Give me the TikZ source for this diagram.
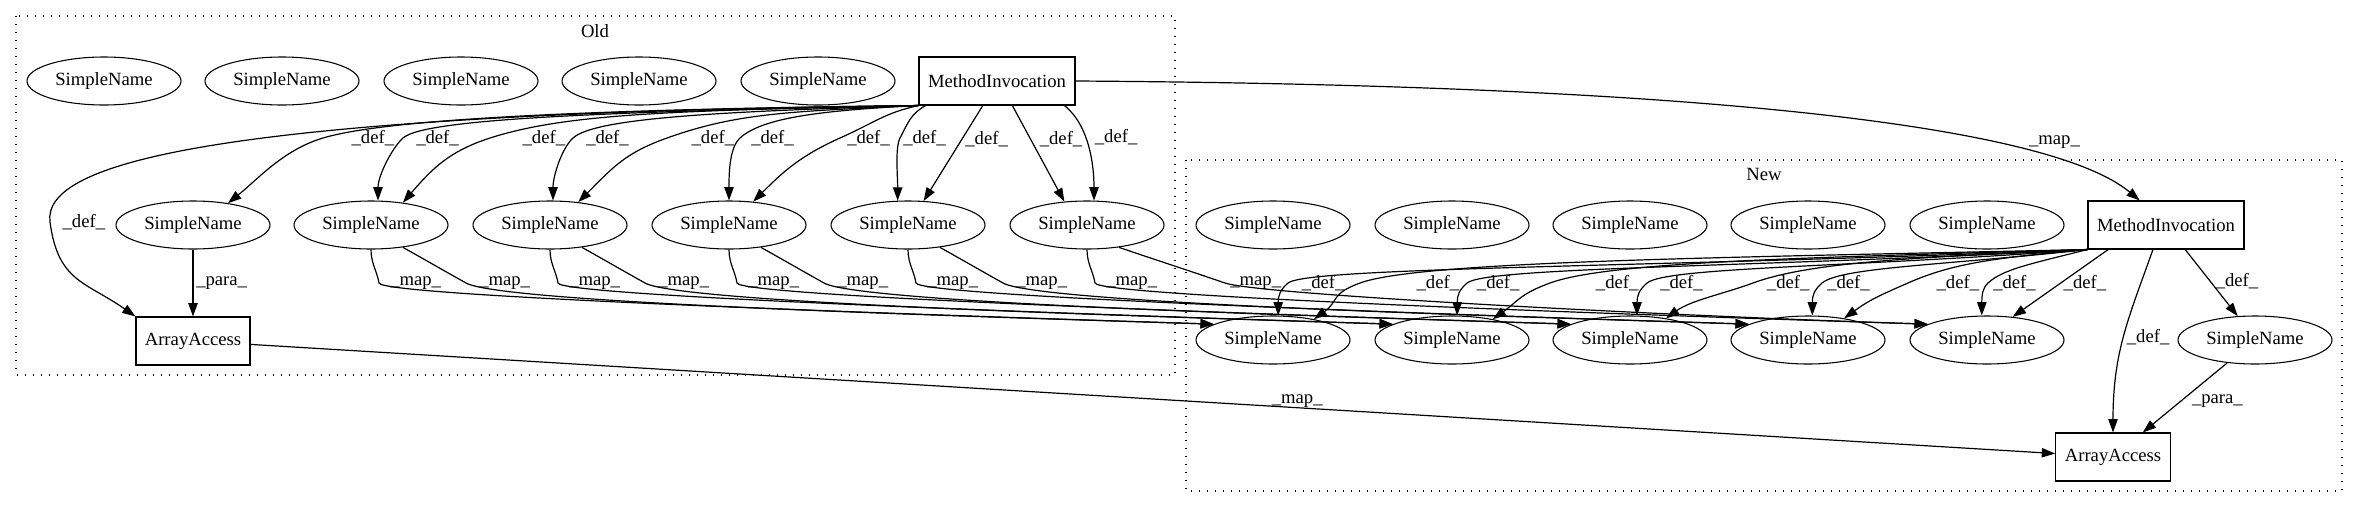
\documentclass[tikz,border=0pt]{standalone}
\usepackage{fontspec}
\setmainfont{Liberation Serif}
\usetikzlibrary{arrows.meta, shapes.geometric}

\begin{document}
\begin{tikzpicture}[x=0.75pt, y=-0.75pt,
  every node/.style={font=\fontsize{14pt}{16.8pt}\selectfont},
  sn/.style={draw, ellipse, line width=0.8pt, minimum width=115.5pt, minimum height=36pt, inner sep=0pt},
  bx/.style={draw, rectangle, line width=0.8pt, minimum height=36pt, inner sep=0pt},
  arr/.style={line width=0.9pt, -{Triangle[length=10pt, width=7pt]}},
  lbl/.style={anchor=west, inner sep=2pt},
  grp/.style={line width=1pt, dash pattern=on 1pt off 5pt}]
\useasboundingbox (0,0) rectangle (2360,508);

\draw[grp] (16,16) rectangle (1175,375);
\draw[grp] (1186,160) rectangle (2342,491);
\node (old) at (595,31) {Old};
\node (new) at (1764,174) {New};

\node[sn] (ot1) at (104,81) {SimpleName};
\node[sn] (ot2) at (282,81) {SimpleName};
\node[sn] (ot3) at (461,81) {SimpleName};
\node[sn] (ot4) at (639,81) {SimpleName};
\node[sn] (ot5) at (818,81) {SimpleName};
\node[bx, minimum width=117pt] (omi) at (997,81) {MethodInvocation};
\node[sn] (om1) at (193,225) {SimpleName};
\node[sn] (om2) at (371,225) {SimpleName};
\node[sn] (om3) at (550,225) {SimpleName};
\node[sn] (om4) at (729,225) {SimpleName};
\node[sn] (om5) at (908,225) {SimpleName};
\node[sn] (om6) at (1087,225) {SimpleName};
\node[bx, minimum width=85.5pt] (oaa) at (193,341) {ArrayAccess};

\node[sn] (nt1) at (1273,225) {SimpleName};
\node[sn] (nt2) at (1452,225) {SimpleName};
\node[sn] (nt3) at (1630,225) {SimpleName};
\node[sn] (nt4) at (1808,225) {SimpleName};
\node[sn] (nt5) at (1987,225) {SimpleName};
\node[bx, minimum width=117pt] (nmi) at (2166,225) {MethodInvocation};
\node[sn] (nb1) at (1273,340) {SimpleName};
\node[sn] (nb2) at (1452,340) {SimpleName};
\node[sn] (nb3) at (1630,340) {SimpleName};
\node[sn] (nb4) at (1808,340) {SimpleName};
\node[sn] (nb5) at (1987,340) {SimpleName};
\node[sn] (nsn) at (2255,340) {SimpleName};
\node[bx, minimum width=86pt] (naa) at (2113,457) {ArrayAccess};

\draw[arr] (omi.south west) .. controls +(-350,4) and +(60,-18) .. (323,138) node[lbl, xshift=19pt] {\_def\_} .. controls +(-40,12) and +(30,-24) .. (om1.32);
\draw[arr] (omi.south west) .. controls +(-300,6) and +(22,-20) .. (403,138) node[lbl, xshift=7.5pt] {\_def\_} .. controls +(-11,10) and +(0,-25) .. (om2.74);
\draw[arr] (omi.south west) .. controls +(-250,5) and +(75,-24) .. (490,138) node[lbl, xshift=22pt] {\_def\_} .. controls +(-40,13) and +(30,-35) .. (om2.35);
\draw[arr] (omi.south west) .. controls +(-200,6) and +(22,-20) .. (573,138) node[lbl, xshift=7.5pt] {\_def\_} .. controls +(-11,10) and +(0,-25) .. (om3.83);
\draw[arr] (omi.south west) .. controls +(-130,6) and +(70,-25) .. (667,138) node[lbl, xshift=16pt] {\_def\_} .. controls +(-42,15) and +(35,-35) .. (om3.39);
\draw[arr] (omi.south west) .. controls +(-100,5) and +(22,-20) .. (740,138) node[lbl, xshift=6pt] {\_def\_} .. controls +(-11,10) and +(0,-25) .. (om4.north);
\draw[arr] (omi.south west) .. controls +(-35,8) and +(40,-18) .. (840,138) node[lbl, xshift=3pt] {\_def\_} .. controls +(-40,18) and +(30,-30) .. (om4.44);
\draw[arr] (omi.199) .. controls +(-15,8) and +(8,-15) .. (900,138) node[lbl] {\_def\_} .. controls +(-5,10) and +(0,-25) .. (om5.113);
\draw[arr] (omi.-120) -- (om5.57) node[lbl, pos=0.35] {\_def\_};
\draw[arr] (omi.-58) -- (om6.134) node[lbl, pos=0.35, xshift=4.5pt] {\_def\_};
\draw[arr] (omi.-20) .. controls +(25,20) and +(0,-35) .. (om6.74) node[lbl, pos=0.4, xshift=4.5pt] {\_def\_};
\draw[arr] (omi.south west) .. controls +(-700,8) and +(-8,-60) .. (50,222) node[lbl, xshift=7pt] {\_def\_} .. controls +(8,60) and +(-50,-35) .. (oaa.north west);
\draw[arr] (om1) -- (oaa) node[lbl, pos=0.5] {\_para\_};

\draw[arr] (omi.east) .. controls +(625,4) and +(-90,-75) .. (nmi.137) node[pos=0.8, anchor=south, yshift=8pt, inner sep=0pt] {\_map\_};
\draw[arr] (oaa) -- (naa) node[pos=0.58, anchor=south, inner sep=0pt] {\_map\_};

\draw[arr] (om2.south) .. controls +(0,14) and +(-2,-12) .. (379,283) node[lbl, xshift=6pt] {\_map\_} .. controls +(3,14) and +(-250,-8) .. (nb1.165);
\draw[arr] (om2.-35) .. controls +(25,14) and +(-25,-14) .. (466,283) node[lbl, xshift=7.5pt] {\_map\_} .. controls +(35,20) and +(-250,-8) .. (nb1.165);
\draw[arr] (om3.south) .. controls +(0,14) and +(-2,-12) .. (558,283) node[lbl, xshift=6pt] {\_map\_} .. controls +(3,14) and +(-250,-8) .. (nb2.165);
\draw[arr] (om3.-35) .. controls +(25,14) and +(-25,-14) .. (645,283) node[lbl, xshift=7.5pt] {\_map\_} .. controls +(35,20) and +(-250,-8) .. (nb2.165);
\draw[arr] (om4.south) .. controls +(0,14) and +(-2,-12) .. (737,283) node[lbl, xshift=6pt] {\_map\_} .. controls +(3,14) and +(-250,-8) .. (nb3.165);
\draw[arr] (om4.-35) .. controls +(25,14) and +(-25,-14) .. (824,283) node[lbl, xshift=7.5pt] {\_map\_} .. controls +(35,20) and +(-250,-8) .. (nb3.165);
\draw[arr] (om5.south) .. controls +(0,14) and +(-2,-12) .. (916,283) node[lbl, xshift=6pt] {\_map\_} .. controls +(3,14) and +(-250,-8) .. (nb4.165);
\draw[arr] (om5.-35) .. controls +(25,14) and +(-25,-14) .. (1003,283) node[lbl, xshift=7.5pt] {\_map\_} .. controls +(35,20) and +(-250,-8) .. (nb4.165);
\draw[arr] (om6.south) .. controls +(0,14) and +(-2,-12) .. (1095,283) node[lbl, xshift=6pt] {\_map\_} .. controls +(3,14) and +(-250,-8) .. (nb5.165);
\draw[arr] (om6.-35) .. controls +(35,12) and +(-35,-12) .. (1225,283) node[lbl, xshift=1.5pt] {\_map\_} .. controls +(35,12) and +(-250,-8) .. (nb5.165);

\draw[arr] (nmi.south west) .. controls +(-440,18) and +(20,-16) .. (1288,283) node[lbl, xshift=8pt] {\_def\_} .. controls +(-8,7) and +(0,-20) .. (nb1.78);
\draw[arr] (nmi.south west) .. controls +(-364,8) and +(60,-22) .. (1360,283) node[lbl, xshift=40pt] {\_def\_} .. controls +(-30,11) and +(25,-18) .. (nb1.27);
\draw[arr] (nmi.south west) .. controls +(-340,18) and +(20,-16) .. (1467,283) node[lbl, xshift=5pt] {\_def\_} .. controls +(-8,7) and +(0,-20) .. (nb2.78);
\draw[arr] (nmi.south west) .. controls +(-270,8) and +(60,-22) .. (1550,283) node[lbl, xshift=32pt] {\_def\_} .. controls +(-30,11) and +(25,-18) .. (nb2.27);
\draw[arr] (nmi.south west) .. controls +(-240,18) and +(20,-16) .. (1647,283) node[lbl, xshift=7.5pt] {\_def\_} .. controls +(-8,7) and +(0,-20) .. (nb3.74);
\draw[arr] (nmi.south west) .. controls +(-165,8) and +(60,-22) .. (1753,283) node[lbl, xshift=8pt] {\_def\_} .. controls +(-30,11) and +(25,-18) .. (nb3.31);
\draw[arr] (nmi.south west) .. controls +(-145,16) and +(20,-16) .. (1822,283) node[lbl, xshift=1.5pt] {\_def\_} .. controls +(-8,7) and +(0,-20) .. (nb4.80);
\draw[arr] (nmi.south west) .. controls +(-90,8) and +(45,-20) .. (1908,283) node[lbl, xshift=19pt] {\_def\_} .. controls +(-30,13) and +(25,-18) .. (nb4.31);
\draw[arr] (nmi.south west) .. controls +(-55,14) and +(15,-14) .. (1988,283) node[lbl, xshift=1.5pt] {\_def\_} .. controls +(-6,6) and +(0,-20) .. (nb5.102);
\draw[arr] (nmi.-157) -- (nb5.42) node[lbl, pos=0.5] {\_def\_};
\draw[arr] (nmi.-52) -- (nsn.126) node[lbl, pos=0.47, xshift=2pt] {\_def\_};
\draw[arr] (nmi.-118) .. controls +(-25,70) and +(0,-80) .. (naa.north) node[lbl, pos=0.5] {\_def\_};
\draw[arr] (nsn) -- (naa) node[lbl, pos=0.55, xshift=6pt] {\_para\_};
\end{tikzpicture}
\end{document}
